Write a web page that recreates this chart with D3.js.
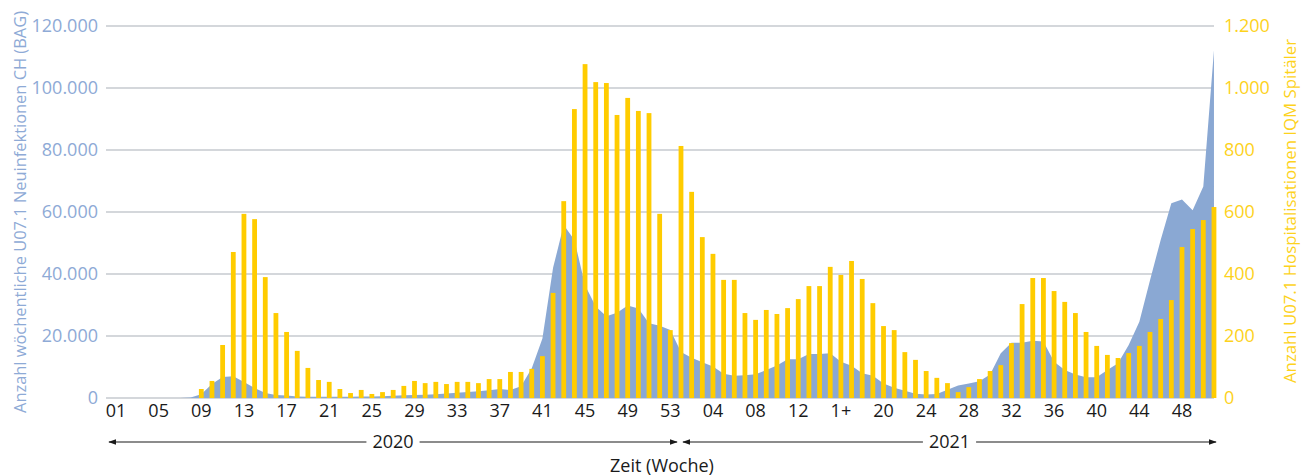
<!DOCTYPE html>
<html>
<head>
<meta charset="utf-8">
<script src="https://cdn.jsdelivr.net/npm/d3@7"></script>
<style>
  html, body { margin: 0; padding: 0; background: #fff; }
  svg { display: block; }
  text { font-family: "Open Sans", "Noto Sans", sans-serif; }
</style>
</head>
<body>
<svg id="chart" width="1311" height="476"></svg>
<script>
// ---- data ----
const weeks2020 = d3.range(1, 54).map(w => String(w).padStart(2, "0"));
const weeks2021 = d3.range(1, 52).map(w => String(w).padStart(2, "0"));
const categories = weeks2020.map(w => "2020-" + w).concat(weeks2021.map(w => "2021-" + w));

const tickLabels = ["01","05","09","13","17","21","25","29","33","37","41","45","49","53",
                    "04","08","12","1+","20","24","28","32","36","40","44","48"];

// weekly new infections (left axis)
const infections = [
  0, 0, 0, 0, 0, 0, 0, 200, 1200, 4500,
  6800, 7000, 5200, 3200, 1600, 1000, 800, 500, 400, 400,
  400, 400, 400, 450, 500, 550, 750, 850, 970, 1050,
  1200, 1450, 1700, 1950, 2200, 2500, 2900, 2600, 3800, 9600,
  19200, 42000, 55800, 51000, 36400, 29500, 26400, 27500, 29800, 28900,
  24100, 23300, 21900, 14800, 13000, 11500, 10200, 7800, 7200, 7300,
  7700, 9000, 10500, 12500, 12500, 14200, 14200, 14400, 11700, 10400,
  8000, 7200, 4700, 3300, 2300, 1400, 1100, 1300, 2700, 4000,
  4700, 5400, 7600, 14400, 17800, 17800, 18500, 18200, 11700, 9000,
  7600, 6700, 6700, 9000, 11200, 17100, 24600, 38000, 51000, 62800,
  64000, 60600, 68200, 112200
];

// weekly hospitalisations (right axis)
const hospitalisations = [
  0, 0, 0, 0, 0, 0, 0, 0, 29, 55,
  171, 471, 594, 577, 390, 274, 213, 152, 97, 58,
  52, 29, 16, 26, 13, 19, 26, 39, 55, 48,
  52, 45, 52, 52, 48, 61, 61, 84, 84, 94,
  135, 339, 635, 932, 1077, 1019, 1016, 913, 968, 926,
  919, 594, 219, 813, 665, 519, 465, 381, 381, 274,
  252, 284, 271, 290, 319, 361, 361, 423, 397, 442,
  384, 306, 232, 219, 148, 123, 87, 65, 48, 19,
  35, 61, 87, 106, 177, 303, 387, 387, 345, 310,
  274, 213, 168, 139, 129, 145, 168, 213, 255, 316,
  487, 545, 574, 616
];

const leftTicks = [0, 20000, 40000, 60000, 80000, 100000, 120000];
const rightTicks = [0, 200, 400, 600, 800, 1000, 1200];

// ---- layout ----
const svg = d3.select("#chart");
const plotLeft = 106, plotRight = 1214, plotTop = 26, plotBottom = 398;

const x = d3.scaleBand().domain(d3.range(categories.length)).range([110.7, 1219.3]).padding(0);
const cx = i => x(i) + x.bandwidth() / 2;
const yL = d3.scaleLinear().domain([0, 120000]).range([plotBottom, plotTop]);
const yR = d3.scaleLinear().domain([0, 1200]).range([plotBottom, plotTop]);

const blue = "#8aa8d3";
const yellow = "#ffcc00";
const fmt = d3.formatLocale({ decimal: ",", thousands: ".", grouping: [3], currency: ["", ""] }).format(",d");

// gridlines
svg.append("g").selectAll("line").data(leftTicks).join("line")
  .attr("x1", plotLeft).attr("x2", plotRight)
  .attr("y1", d => yL(d)).attr("y2", d => yL(d))
  .attr("stroke", "#c6cacf").attr("stroke-width", 1.6);

// area
const area = d3.area()
  .x((d, i) => cx(i))
  .y0(yL(0))
  .y1(d => yL(d));
svg.append("path").datum(infections).attr("d", area).attr("fill", blue);

// bars
const bw = 4.8;
svg.append("g").selectAll("rect").data(hospitalisations).join("rect")
  .attr("x", (d, i) => cx(i) - bw / 2)
  .attr("width", bw)
  .attr("y", d => yR(d))
  .attr("height", d => yR(0) - yR(d))
  .attr("fill", yellow);

// left axis
const leftAxis = d3.axisLeft(yL).tickValues(leftTicks).tickFormat(fmt).tickSize(0).tickPadding(0);
const gL = svg.append("g").attr("transform", "translate(98,0)").call(leftAxis);
gL.select(".domain").remove();
gL.selectAll("text").attr("fill", "#8eaad6").attr("font-size", 18);

// right axis
const rightAxis = d3.axisRight(yR).tickValues(rightTicks).tickFormat(fmt).tickSize(0).tickPadding(0);
const gR = svg.append("g").attr("transform", "translate(1224,0)").call(rightAxis);
gR.select(".domain").remove();
gR.selectAll("text").attr("fill", "#fdd21c").attr("font-size", 18);

// bottom axis
const tickIdx = d3.range(0, categories.length, 4);
const bottomAxis = d3.axisBottom(x).tickValues(tickIdx)
  .tickFormat((d, i) => tickLabels[i]).tickSize(0).tickPadding(6);
const gB = svg.append("g").attr("transform", `translate(0,${plotBottom})`).call(bottomAxis);
gB.select(".domain").remove();
gB.selectAll("text").attr("fill", "#1a1a1a").attr("font-size", 18);

// axis titles
svg.append("text")
  .attr("transform", "translate(20,212) rotate(-90)")
  .attr("text-anchor", "middle").attr("dy", "0.35em")
  .attr("fill", "#8eaad6").attr("font-size", 16.4)
  .attr("textLength", 402).attr("lengthAdjust", "spacingAndGlyphs")
  .text("Anzahl wöchentliche U07.1 Neuinfektionen CH (BAG)");
svg.append("text")
  .attr("transform", "translate(1290,211) rotate(-90)")
  .attr("text-anchor", "middle").attr("dy", "0.35em")
  .attr("fill", "#fdd21c").attr("font-size", 17)
  .attr("textLength", 344).attr("lengthAdjust", "spacingAndGlyphs")
  .text("Anzahl U07.1 Hospitalisationen IQM Spitäler");

// year arrows
const defs = svg.append("defs");
defs.append("marker").attr("id", "arr").attr("viewBox", "0 0 10 10")
  .attr("refX", 9).attr("refY", 5).attr("markerWidth", 8).attr("markerHeight", 8)
  .attr("markerUnits", "userSpaceOnUse").attr("orient", "auto-start-reverse")
  .append("path").attr("d", "M0,1.5 L10,5 L0,8.5 Z").attr("fill", "#1a1a1a");

const years = [
  { label: "2020", x1: 109, x2: 677 },
  { label: "2021", x1: 683, x2: 1216 }
];
const yearY = 442;
years.forEach(yr => {
  const mid = (yr.x1 + yr.x2) / 2;
  const t = svg.append("text").attr("x", mid).attr("y", yearY).attr("dy", "0.35em")
    .attr("text-anchor", "middle").attr("font-size", 18).attr("fill", "#1a1a1a").text(yr.label);
  const w = t.node().getComputedTextLength();
  svg.append("line").attr("x1", mid - w / 2 - 6).attr("x2", yr.x1).attr("y1", yearY).attr("y2", yearY)
    .attr("stroke", "#1a1a1a").attr("stroke-width", 1.2).attr("marker-end", "url(#arr)");
  svg.append("line").attr("x1", mid + w / 2 + 6).attr("x2", yr.x2).attr("y1", yearY).attr("y2", yearY)
    .attr("stroke", "#1a1a1a").attr("stroke-width", 1.2).attr("marker-end", "url(#arr)");
});

svg.append("text").attr("x", 662).attr("y", 466).attr("dy", "0.35em")
  .attr("text-anchor", "middle").attr("font-size", 18).attr("fill", "#1a1a1a")
  .text("Zeit (Woche)");
</script>
</body>
</html>
